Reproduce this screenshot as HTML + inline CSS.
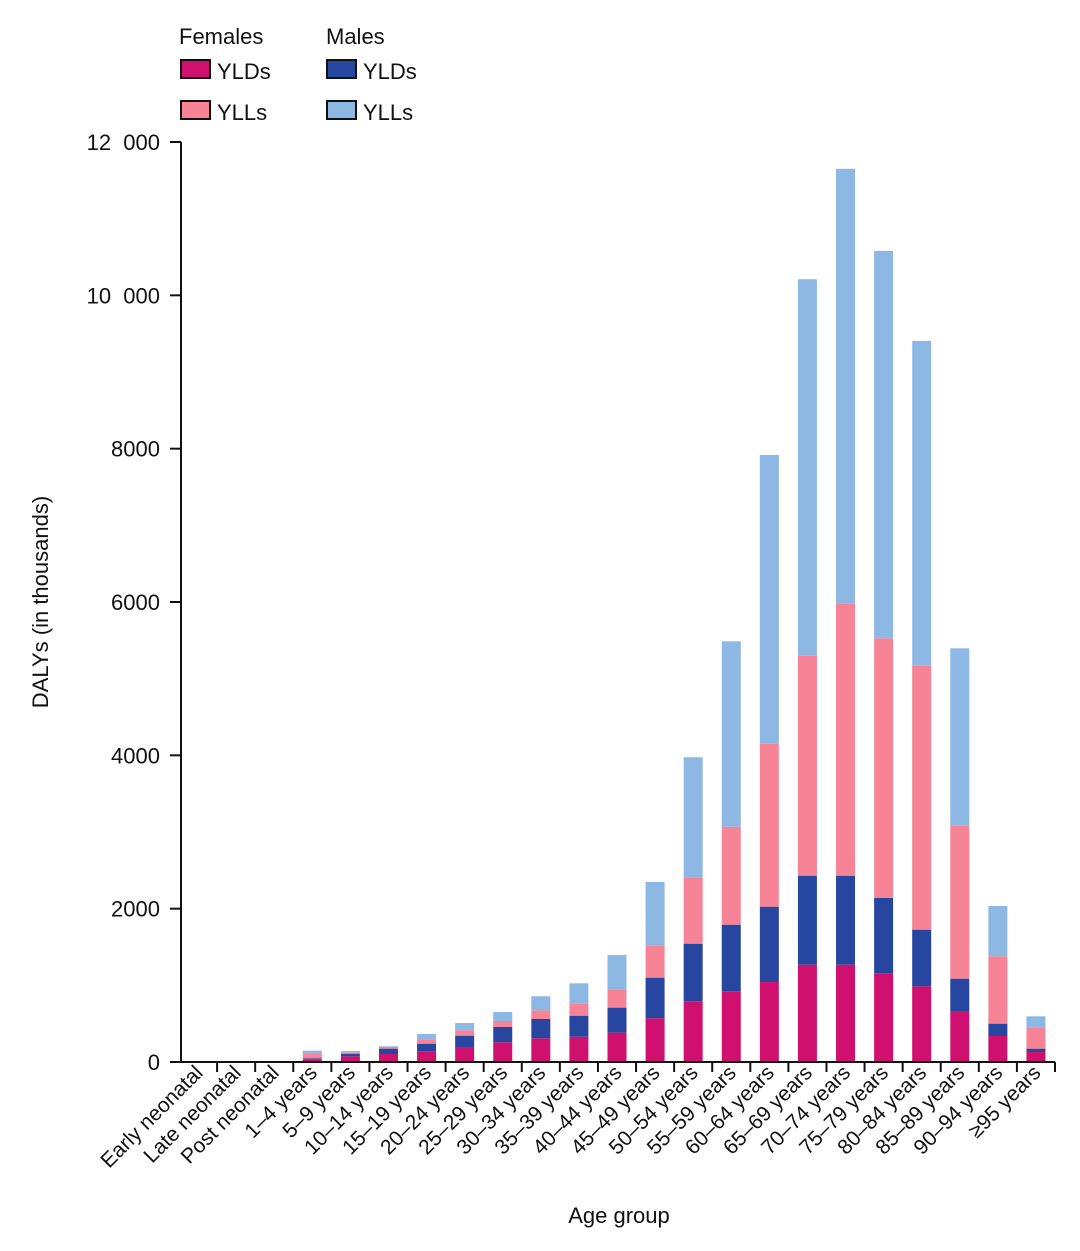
<!DOCTYPE html>
<html><head><meta charset="utf-8"><style>
body{margin:0;background:#fff;}
svg text{font-family:"Liberation Sans",sans-serif;fill:#111;}
</style></head><body>
<svg id="chart" width="1080" height="1246" viewBox="0 0 1080 1246" xmlns="http://www.w3.org/2000/svg">
<g>
<text x="179" y="44" font-size="22">Females</text>
<text x="326" y="44" font-size="22">Males</text>
<rect x="181" y="60" width="29" height="18" fill="#d0106e" stroke="#111" stroke-width="2"/>
<text x="217" y="79" font-size="22">YLDs</text>
<rect x="181" y="101" width="29" height="18" fill="#f68396" stroke="#111" stroke-width="2"/>
<text x="217" y="120" font-size="22">YLLs</text>
<rect x="327" y="60" width="29" height="18" fill="#2746a0" stroke="#111" stroke-width="2"/>
<text x="363" y="79" font-size="22">YLDs</text>
<rect x="327" y="101" width="29" height="18" fill="#8db8e4" stroke="#111" stroke-width="2"/>
<text x="363" y="120" font-size="22">YLLs</text>
</g>
<g id="bars"></g>
<g id="axes"></g>
<text x="48" y="602" font-size="22" text-anchor="middle" transform="rotate(-90 48 602)">DALYs (in thousands)</text>
<text x="619" y="1223" font-size="22" text-anchor="middle">Age group</text>
</svg>
<script>
const categories=["Early neonatal","Late neonatal","Post neonatal","1–4 years","5–9 years","10–14 years","15–19 years","20–24 years","25–29 years","30–34 years","35–39 years","40–44 years","45–49 years","50–54 years","55–59 years","60–64 years","65–69 years","70–74 years","75–79 years","80–84 years","85–89 years","90–94 years","≥95 years"];
const femaleYLDs=[0,0,0,35,74,104,139,196,257,309,330,383,570,792,922,1043,1269,1269,1157,987,665,339,130];
const maleYLDs=[0,0,0,13,34,70,100,147,200,252,274,326,530,751,869,983,1161,1161,982,739,422,161,44];
const femaleYLLs=[0,0,0,65,18,22,57,70,78,113,157,239,422,866,1278,2126,2870,3553,3387,3443,1995,878,278];
const maleYLLs=[0,0,0,35,17,9,69,96,117,183,265,448,828,1566,2418,3765,4910,5667,5054,4236,2314,657,144];
const yTicks=[0,2000,4000,6000,8000,10000,12000];
const yTickLabels=["0","2000","4000","6000","8000","10  000","12  000"];

const NS="http://www.w3.org/2000/svg";
const x0=179,x1=1055,y0=1062,yTop=142,yMax=12000;
const band=(x1-x0)/categories.length,barW=19;
const yScale=v=>y0-(v/yMax)*(y0-yTop);
const xCenter=i=>x0+band*i+band/2;
function mk(tag,attrs,parent){const e=document.createElementNS(NS,tag);for(const k in attrs)e.setAttribute(k,attrs[k]);parent.appendChild(e);return e;}
const bars=document.getElementById('bars'),axes=document.getElementById('axes');
const series=[[femaleYLDs,"#d0106e","female-ylds"],[maleYLDs,"#2746a0","male-ylds"],[femaleYLLs,"#f68396","female-ylls"],[maleYLLs,"#8db8e4","male-ylls"]];
categories.forEach((c,i)=>{
  let cum=0;
  series.forEach(([arr,col,nm])=>{
    const v=arr[i];if(v<=0)return;
    const yA=yScale(cum),yB=yScale(cum+v);cum+=v;
    const r=mk('rect',{x:xCenter(i)-barW/2,y:yB,width:barW,height:yA-yB,fill:col},bars);
    
    
  });
  const t=mk('text',{x:xCenter(i)+6,y:1074,'font-size':21,'text-anchor':'end',transform:'rotate(-45 '+(xCenter(i)+6)+' 1074)'},axes);
  t.textContent=c;
  
  
});
const yl=mk('line',{x1:181,y1:yTop,x2:181,y2:y0,stroke:'#111','stroke-width':2},axes);


const xl=mk('line',{x1:180,y1:y0,x2:x1,y2:y0,stroke:'#111','stroke-width':2},axes);


yTicks.forEach((v,k)=>{
  const y=yScale(v);
  const tk=mk('line',{x1:170,y1:y,x2:181,y2:y,stroke:'#111','stroke-width':2},axes);
  
  
  const t=mk('text',{x:160,y:y+8,'font-size':22,'text-anchor':'end','xml:space':'preserve'},axes);
  t.style.whiteSpace='pre';
  t.textContent=yTickLabels[k];
  
  
});
for(let i=1;i<=categories.length;i++){
  const x=x0+band*i;
  const tk=mk('line',{x1:x,y1:y0,x2:x,y2:y0+10,stroke:'#111','stroke-width':2},axes);
  
  
}
</script>
</body></html>
